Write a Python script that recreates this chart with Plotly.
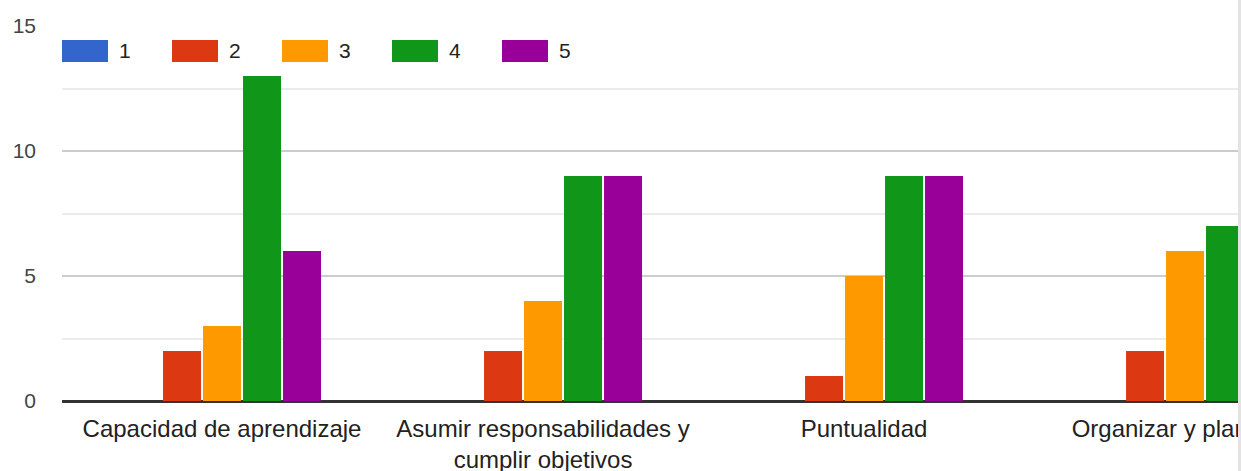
import plotly.graph_objects as go

# ---- data ----
categories = [
    "Capacidad de aprendizaje",
    "Asumir responsabilidades y cumplir objetivos",
    "Puntualidad",
    "Organizar y planificar",
]
tick_labels = [
    "Capacidad de aprendizaje",
    "Asumir responsabilidades y<br>cumplir objetivos",
    "Puntualidad",
    "Organizar y planificar",
]
series_names = ["1", "2", "3", "4", "5"]
values_1 = [0, 0, 0, 0]
values_2 = [2, 2, 1, 2]
values_3 = [3, 4, 5, 6]
values_4 = [13, 9, 9, 7]
values_5 = [6, 9, 9, 5]
y_tick_values = [0, 5, 10, 15]

# ---- style ----
colors = ["#3366cc", "#dc3912", "#ff9900", "#109618", "#990099"]
FONT = "Arial"
W, H = 1241, 471
ML, MT = 62, 26
MR = W - 1238
MB = H - 401
PW = W - ML - MR
PH = H - MT - MB

all_values = [values_1, values_2, values_3, values_4, values_5]

fig = go.Figure()
for name, vals, col in zip(series_names, all_values, colors):
    fig.add_trace(go.Bar(
        x=categories, y=vals, name=name,
        marker=dict(color=col, line=dict(width=0)),
        showlegend=False,
    ))


def px_to_paper_x(px):
    return (px - ML) / PW


def px_to_paper_y(py):
    return (MT + PH - py) / PH


shapes = []
annotations = []
for i, (name, col) in enumerate(zip(series_names, colors)):
    x0 = 62 + i * 110
    shapes.append(dict(
        type="rect", xref="paper", yref="paper",
        x0=px_to_paper_x(x0), x1=px_to_paper_x(x0 + 46),
        y0=px_to_paper_y(62), y1=px_to_paper_y(40),
        fillcolor=col, line=dict(width=0), layer="above",
    ))
    annotations.append(dict(
        xref="paper", yref="paper",
        x=px_to_paper_x(x0 + 55), y=px_to_paper_y(51),
        xanchor="left", yanchor="middle", showarrow=False,
        text=name, font=dict(family=FONT, size=21, color="#222222"),
    ))

shapes.append(dict(
    type="line", xref="paper", yref="paper",
    x0=px_to_paper_x(1239.5), x1=px_to_paper_x(1239.5),
    y0=px_to_paper_y(0), y1=px_to_paper_y(471),
    line=dict(color="#e3e3e3", width=3), layer="above",
))

fig.update_layout(
    width=W, height=H,
    margin=dict(l=ML, r=MR, t=MT, b=MB, pad=0, autoexpand=False),
    paper_bgcolor="white", plot_bgcolor="white",
    barmode="group", bargap=0.377, bargroupgap=0.05,
    shapes=shapes, annotations=annotations,
    font=dict(family=FONT),
    showlegend=False,
)
fig.update_xaxes(
    type="category", automargin=False,
    range=[-0.4985, 3.165],
    tickmode="array", tickvals=categories, ticktext=tick_labels,
    tickangle=0, ticks="", showgrid=False,
    showline=False, zeroline=False,
    ticklabeloverflow="allow",
    tickfont=dict(family=FONT, size=24, color="#222222"),
    ticklabelstandoff=11,
)
fig.update_yaxes(
    range=[0, 15], automargin=False,
    tickmode="array", tickvals=y_tick_values,
    ticks="", showgrid=True, gridcolor="#cccccc", gridwidth=2,
    minor=dict(dtick=2.5, showgrid=True, gridcolor="#ebebeb", gridwidth=2, ticks=""),
    zeroline=True, zerolinecolor="#333333", zerolinewidth=3,
    showline=False,
    tickfont=dict(family=FONT, size=21, color="#444444"),
    ticklabelstandoff=25,
)

fig.write_html(
    "out.html",
    config={"displayModeBar": False},
    post_script="document.body.style.margin='0';document.body.style.overflow='hidden';",
)
